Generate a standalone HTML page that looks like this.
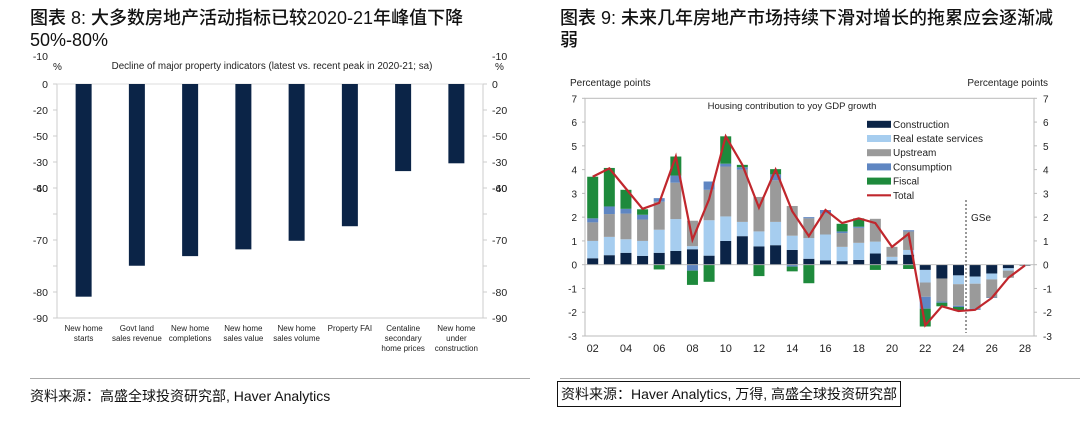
<!DOCTYPE html>
<html><head><meta charset="utf-8">
<style>
body{margin:0;width:1080px;height:424px;background:#fff;overflow:hidden;font-family:"Liberation Sans","Noto Sans CJK SC",sans-serif;}
.title{position:absolute;font-size:18px;line-height:22px;color:#111;font-weight:500}
.src{position:absolute;font-size:14px;color:#111;white-space:nowrap}
svg{position:absolute;left:0;top:0}
</style></head><body>
<div class="title" style="left:30px;top:7px;width:480px">图表 8: 大多数房地产活动指标已较2020-21年峰值下降<br>50%-80%</div>
<div class="title" style="left:560px;top:7px;width:510px">图表 9: 未来几年房地产市场持续下滑对增长的拖累应会逐渐减<br>弱</div>
<div style="position:absolute;left:30px;top:378px;width:500px;height:1px;background:#aaa"></div>
<div style="position:absolute;left:560px;top:378px;width:520px;height:1px;background:#aaa"></div>
<div class="src" style="left:30px;top:386px">资料来源：高盛全球投资研究部, Haver Analytics</div>
<div class="src" style="left:557px;top:381px;border:1.5px solid #111;padding:3px 3px;line-height:18px">资料来源：Haver Analytics, 万得, 高盛全球投资研究部</div>
<svg id="c" width="1080" height="424"></svg>
<script>
// Left chart data
const leftCats=[["New home","starts"],["Govt land","sales revenue"],["New home","completions"],["New home","sales value"],["New home","sales volume"],["Property FAI"],["Centaline","secondary","home prices"],["New home","under","construction"]];
const leftVals=[-81.8,-69.9,-66.2,-63.6,-60.3,-54.7,-33.5,-30.5];
const leftTickVals=[0,-10,-20,-30,-40,-50,-60,-70,-80,-90];
const leftTickLabels=["0","-20","-50","-30","-60","","-70","","-80","-90"];
// Right chart data
const years=["02","03","04","05","06","07","08","09","10","11","12","13","14","15","16","17","18","19","20","21","22","23","24","25","26","27","28"];
const construction=[0.27,0.4,0.5,0.37,0.5,0.58,0.65,0.38,1.0,1.2,0.77,0.82,0.62,0.25,0.18,0.15,0.2,0.47,0.17,0.42,-0.22,-0.58,-0.45,-0.5,-0.37,-0.15,-0.03];
const realEstate=[0.73,0.77,0.57,0.63,0.97,1.34,0.13,1.49,1.03,0.6,0.63,0.98,0.6,0.87,1.09,0.6,0.72,0.5,0.16,0.2,-0.53,0,-0.37,-0.3,-0.25,-0.1,0];
const upstream=[0.78,0.96,1.08,0.9,1.18,1.53,1.07,1.28,2.1,2.2,1.45,1.75,1.25,0.83,0.88,0.58,0.63,0.96,0.42,0.78,-0.6,-0.97,-0.91,-1.05,-0.76,-0.3,-0.02];
const consumption=[0.17,0.32,0.2,0.2,0.15,0.3,-0.25,0.35,0.12,0.1,0,0.25,-0.08,0.05,0.15,0.07,0.05,0,0,0.05,-0.5,-0.05,-0.05,-0.05,-0.02,0,0];
const fiscal=[1.75,1.62,0.8,0.23,-0.2,0.8,-0.6,-0.72,1.15,0.1,-0.48,0.22,-0.2,-0.78,0,0.32,0.35,-0.22,0,-0.18,-0.75,-0.15,-0.15,0,0,0,0];
const total=[3.7,4.05,3.2,2.35,2.6,4.55,1.05,2.75,5.4,4.2,2.4,4.0,2.25,1.2,2.3,1.75,1.95,1.75,0.75,1.3,-2.55,-1.75,-1.95,-1.9,-1.4,-0.55,-0.03];
const rightTicks=[7,6,5,4,3,2,1,0,-1,-2,-3];
const xTicks=["02","04","06","08","10","12","14","16","18","20","22","24","26","28"];

const svg=document.getElementById('c');
const NS='http://www.w3.org/2000/svg';
function mk(tag,attrs,parent){const e=document.createElementNS(NS,tag);for(const k in attrs)e.setAttribute(k,attrs[k]);(parent||svg).appendChild(e);return e;}
function txt(x,y,s,size,anchor,parent){const t=mk('text',{x:x,y:y,'font-size':size,'text-anchor':anchor||'start',fill:'#222','font-family':'Liberation Sans, sans-serif'},parent);t.textContent=s;return t;}

// ---------- Left chart ----------
const L={x0:57,x1:483,y0:84,y1:318};
const ly=v=>L.y0+(0-v)/90*(L.y1-L.y0);
const lband=(L.x1-L.x0)/leftCats.length;
const lg=mk('g',{});


mk('line',{x1:L.x0,y1:L.y0,x2:L.x0,y2:L.y1,stroke:'#ccc'},lg);
mk('line',{x1:L.x1,y1:L.y0,x2:L.x1,y2:L.y1,stroke:'#ccc'},lg);
mk('line',{x1:L.x0,y1:L.y1,x2:L.x1,y2:L.y1,stroke:'#ccc'},lg);
mk('line',{x1:L.x0,y1:L.y0,x2:L.x1,y2:L.y0,stroke:'#ddd'},lg);
leftTickVals.forEach((v,i)=>{
  const y=ly(v);
  mk('line',{x1:L.x0-4,y1:y,x2:L.x0,y2:y,stroke:'#ccc'},lg);
  mk('line',{x1:L.x1,y1:y,x2:L.x1+4,y2:y,stroke:'#ccc'},lg);
  if(leftTickLabels[i]){
    const a=txt(48,y+4,leftTickLabels[i],10.5,'end',lg);
    const b=txt(492,y+4,leftTickLabels[i],10.5,'start',lg);
  }
});
// overlapping "-40" label drawn on same position as -60
txt(48,ly(-40)+4,'-40',10.5,'end',lg);
txt(492,ly(-40)+4,'-40',10.5,'start',lg);
txt(48,60,'-10',10.5,'end',lg);txt(492,60,'-10',10.5,'start',lg);
txt(53,70,'%',10,'start',lg);txt(495,70,'%',10,'start',lg);
const lt=txt(272,69,'Decline of major property indicators (latest vs. recent peak in 2020-21; sa)',9.8,'middle',lg);

leftVals.forEach((v,i)=>{
  const cx=L.x0+lband*(i+0.5);
  const r=mk('rect',{x:cx-8,y:L.y0,width:16,height:ly(v)-L.y0,fill:'#0b2447'},lg);
  
  
  leftCats[i].forEach((s,j)=>{const t=txt(cx,331+j*10,s,8,'middle',lg);});
});

// ---------- Right chart ----------
const R={x0:585,x1:1034,y0:98.3,y1:336};
const ry=v=>R.y0+(7-v)/10*(R.y1-R.y0);
const rx=i=>592.7+i*(1025-592.7)/26;
const rg=mk('g',{});


mk('rect',{x:R.x0,y:R.y0,width:R.x1-R.x0,height:R.y1-R.y0,fill:'none',stroke:'#bbb'},rg);
rightTicks.forEach(v=>{
  const y=ry(v);
  mk('line',{x1:R.x0-3,y1:y,x2:R.x0,y2:y,stroke:'#bbb'},rg);
  mk('line',{x1:R.x1,y1:y,x2:R.x1+3,y2:y,stroke:'#bbb'},rg);
  const a=txt(577,y+4,String(v),10,'end',rg);
  const b=txt(1043,y+4,String(v),10,'start',rg);
});
xTicks.forEach(s=>{const i=years.indexOf(s);const t=txt(rx(i),352,s,11,'middle',rg);});
txt(570,86,'Percentage points',10,'start',rg);
txt(1048,86,'Percentage points',10,'end',rg);
const st=txt(792,109,'Housing contribution to yoy GDP growth',9.5,'middle',rg);

const series=[[construction,'#0b2447','construction'],[realEstate,'#a6cdef','real-estate-services'],[upstream,'#9a9a9a','upstream'],[consumption,'#5f86c2','consumption'],[fiscal,'#1e8a3c','fiscal']];
years.forEach((y,i)=>{
  let pos=0,neg=0;
  series.forEach(([arr,col,nm])=>{
    const v=arr[i];if(!v)return;
    let a,b;
    if(v>0){a=pos;b=pos+v;pos=b;}else{a=neg;b=neg+v;neg=b;}
    const top=ry(Math.max(a,b)),bot=ry(Math.min(a,b));
    const r=mk('rect',{x:rx(i)-5.5,y:top,width:11,height:bot-top,fill:col},rg);
    
    
  });
});
mk('line',{x1:R.x0,y1:ry(0),x2:R.x1,y2:ry(0),stroke:'#bbb','stroke-width':0.8},rg);
const pl=mk('polyline',{points:total.map((v,i)=>rx(i)+','+ry(v)).join(' '),fill:'none',stroke:'#c0272d','stroke-width':2.2},rg);


mk('line',{x1:966,y1:200,x2:966,y2:333,stroke:'#333','stroke-dasharray':'2,2'},rg);
txt(971,221,'GSe',10,'start',rg);
const legItems=[['Construction','#0b2447'],['Real estate services','#a6cdef'],['Upstream','#9a9a9a'],['Consumption','#5f86c2'],['Fiscal','#1e8a3c'],['Total','#c0272d']];
legItems.forEach(([n,c],j)=>{
  const y=124.3+j*14.2;
  const g=mk('g',{},rg);
  
  
  if(n==='Total')mk('line',{x1:867,y1:y,x2:891,y2:y,stroke:c,'stroke-width':2.2},g);
  else mk('rect',{x:867,y:y-3.5,width:24,height:7,fill:c},g);
  txt(893,y+3.5,n,10,'start',g);
});
</script>
</body></html>
